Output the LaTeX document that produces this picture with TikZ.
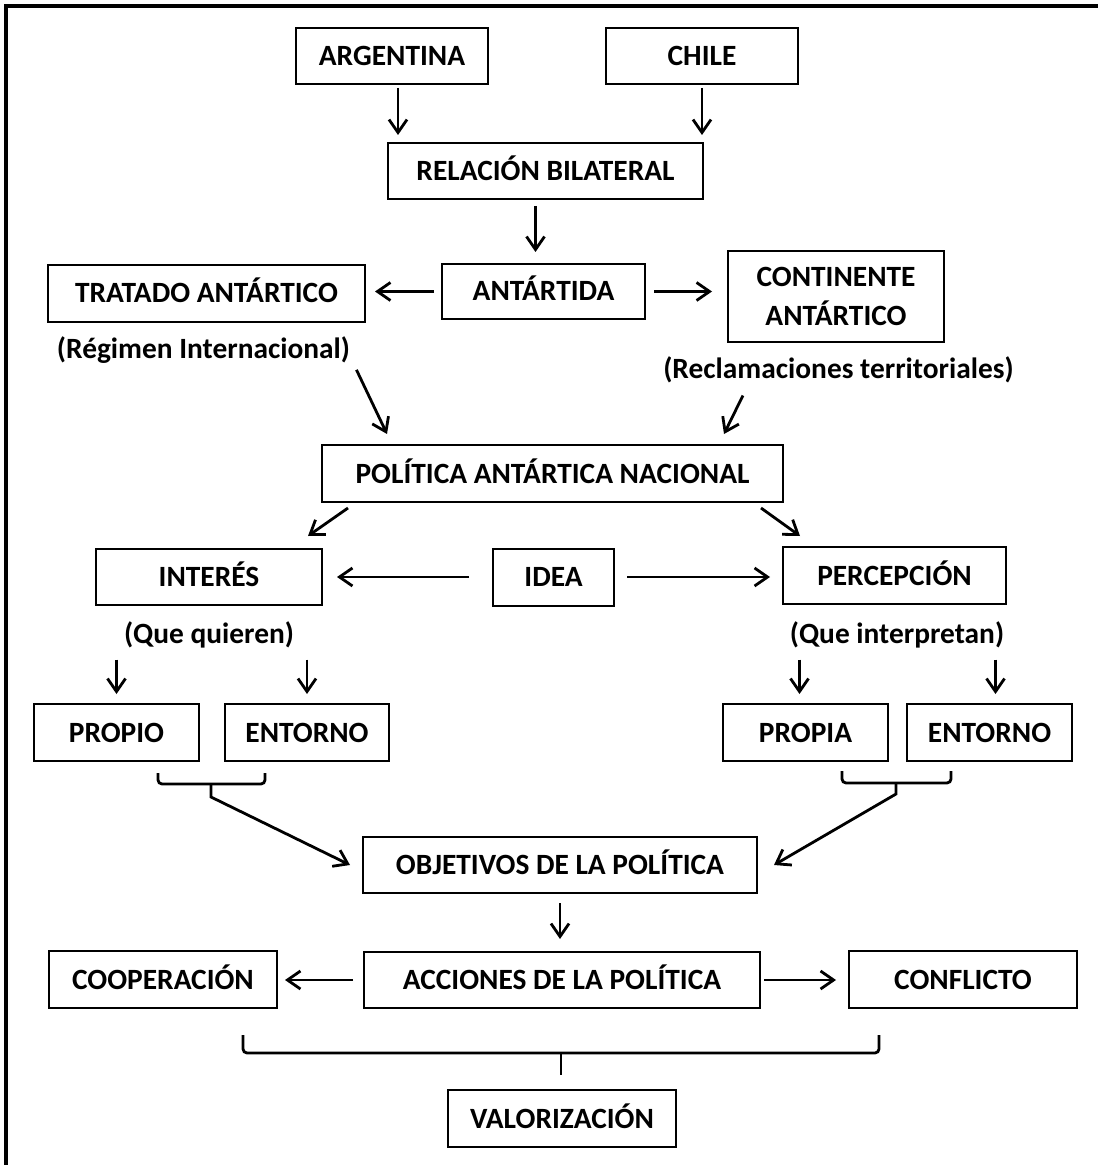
\documentclass[tikz,border=0pt]{standalone}
\usepackage{fontspec}
\setmainfont{Carlito}
\usetikzlibrary{arrows.meta}

\begin{document}
\begin{tikzpicture}[x=0.5pt, y=-0.5pt,
	font=\fontsize{14.7}{19.5}\selectfont\bfseries,
	box/.style={draw, line width=1pt, inner sep=0pt, minimum height=28pt, text height=9.5pt, text depth=0pt},
	tallbox/.style={draw, line width=1pt, inner sep=0pt, align=center},
	note/.style={inner sep=0pt},
	arr/.style={-{Straight Barb[length=6.5pt,width=9pt]}, line width=1.4pt},
	brace/.style={line width=1.4pt, rounded corners=2pt}]
	\useasboundingbox (0,0) rectangle (1098,1165);
	% frame (only top and left edges show)
	\draw[line width=1.6pt] (6,1165) -- (6,6) -- (1098,6);
	% countries
	\node[box, minimum width=96pt] (arg) at (392,56) {ARGENTINA};
	\node[box, minimum width=96pt] (chi) at (702,56) {CHILE};
	\node[box, minimum width=157.5pt] (rel) at (545.5,171) {RELACIÓN BILATERAL};
	\draw[arr, shorten <=1.5pt, shorten >=3.5pt] ([xshift=3]arg.south) -- ([xshift=3]arg.south |- rel.north);
	\draw[arr, shorten <=1.5pt, shorten >=3.5pt] (chi.south) -- (chi.south |- rel.north);
	% antartida
	\node[box, minimum width=101.5pt, minimum height=27.5pt] (ant) at (543.5,291.5) {ANTÁRTIDA};
	\node[box, minimum width=158.5pt, minimum height=28.5pt] (tra) at (206.5,293.5) {TRATADO ANTÁRTICO};
	\node[tallbox, minimum width=108pt, minimum height=45.5pt] (con) at (836,296.5) {CONTINENTE\\ANTÁRTICO};
	\draw[arr, shorten <=3pt, shorten >=5.5pt] ([xshift=-5]rel.south) -- ([xshift=-5]rel.south |- ant.north);
	\draw[arr, shorten <=3.5pt, shorten >=4.5pt] (ant.west) -- (ant.west -| tra.east);
	\draw[arr, shorten <=4pt, shorten >=7.5pt] (ant.east) -- (ant.east -| con.west);
	\node[note] (reg) at (203.5,350) {(Régimen Internacional)};
	\node[note] (recl) at (838.5,370) {(Reclamaciones territoriales)};
	% politica
	\node[box, minimum width=230.5pt, minimum height=28.5pt] (pol) at (552.5,473.5) {POLÍTICA ANTÁRTICA NACIONAL};
	\draw[arr] ([shift={(6,6)}]reg.south east) -- ([shift={(66,-10)}]pol.north west);
	\draw[arr] ([shift={(80,12)}]recl.south west) -- ([shift={(-60,-10)}]pol.north east);
	\node[box, minimum width=113pt] (int) at (209,577) {INTERÉS};
	\node[box, minimum width=60.5pt, minimum height=28.5pt] (idea) at (553.5,577) {IDEA};
	\node[box, minimum width=111.5pt, minimum height=28.5pt] (per) at (894.5,575.5) {PERCEPCIÓN};
	\draw[arr] ([shift={(27,5)}]pol.south west) -- ([shift={(-15,-12)}]int.north east);
	\draw[arr] ([shift={(-23,5)}]pol.south east) -- ([shift={(18,-10)}]per.north west);
	\draw[arr, shorten <=11.5pt, shorten >=7pt] (idea.west) -- (int.east);
	\draw[arr, shorten <=6pt, shorten >=6pt] (idea.east) -- (idea.east -| per.west);
	\node[note] (qq) at (209,635) {(Que quieren)};
	\node[note] (qi) at (897,635) {(Que interpretan)};
	% interes y percepcion
	\node[box, minimum width=82.5pt, minimum height=28.5pt] (propio) at (116.5,732.5) {PROPIO};
	\node[box, minimum width=82pt, minimum height=28.5pt] (entl) at (307,732.5) {ENTORNO};
	\node[box, minimum width=82.5pt, minimum height=28.5pt] (propia) at (805.5,732.5) {PROPIA};
	\node[box, minimum width=82.5pt, minimum height=28.5pt] (entr) at (989.5,732.5) {ENTORNO};
	\draw[arr, shorten <=5.5pt, shorten >=4.5pt] (qq.south -| propio.north) -- (propio.north);
	\draw[arr, shorten <=5.5pt, shorten >=4.5pt] (qq.south -| entl.north) -- (entl.north);
	\draw[arr, shorten <=5.5pt, shorten >=4.5pt] ([xshift=-3]qi.south -| propia.north) -- ([xshift=-3]propia.north);
	\draw[arr, shorten <=5.5pt, shorten >=4.5pt] ([xshift=3]qi.south -| entr.north) -- ([xshift=3]entr.north);
	\draw[brace] (158,773) -- (158,784) -- (265,784) -- (265,773);
	\draw[brace] (842,771) -- (842,783) -- (951,783) -- (951,771);
	\coordinate (bl) at (211,784);
	\coordinate (br) at (896,783);
	% objetivos y acciones
	\node[box, minimum width=197pt] (obj) at (560,865) {OBJETIVOS DE LA POLÍTICA};
	\node[box, minimum width=198pt] (acc) at (562,980) {ACCIONES DE LA POLÍTICA};
	\node[box, minimum width=114pt, minimum height=28.5pt] (coop) at (163,979.5) {COOPERACIÓN};
	\node[box, minimum width=114pt, minimum height=28.5pt] (conf) at (963,979.5) {CONFLICTO};
	\draw[arr] (bl) -- ++(0,13) -- ([xshift=-6]obj.west);
	\draw[arr] (br) -- ++(0,11) -- ([xshift=8]obj.east);
	\draw[arr, shorten <=4.5pt, shorten >=6pt] (obj.south) -- (obj.south |- acc.north);
	\draw[arr, shorten <=5pt, shorten >=3.5pt] (acc.west) -- (acc.west -| coop.east);
	\draw[arr, shorten <=1.5pt, shorten >=6pt] (acc.east) -- (acc.east -| conf.west);
	% valorizacion
	\draw[brace] (243,1035) -- (243,1053) -- (879,1053) -- (879,1035);
	\draw[brace] (561,1053) -- (561,1075);
	\node[box, minimum width=114pt, minimum height=28.5pt] (val) at (562,1118.5) {VALORIZACIÓN};
\end{tikzpicture}
\end{document}
